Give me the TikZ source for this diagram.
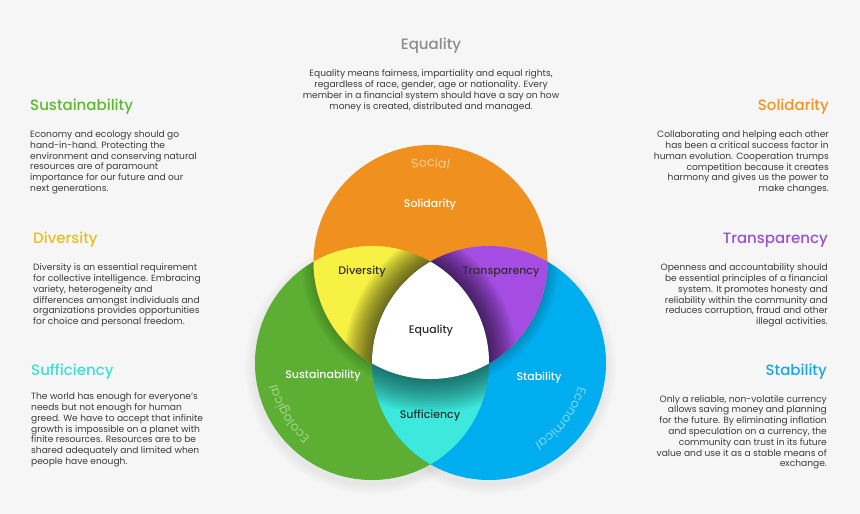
\documentclass[tikz,border=0pt]{standalone}
\usepackage{fontspec}
\setmainfont{Poppins}
\newfontfamily\medfont{Poppins Medium}
\usetikzlibrary{decorations.text}
\definecolor{bg}{HTML}{F6F6F6}
\definecolor{corange}{HTML}{F0901E}
\definecolor{cgreen}{HTML}{5CAF32}
\definecolor{cblue}{HTML}{00AEEF}
\definecolor{cyellow}{HTML}{F6F142}
\definecolor{cpurple}{HTML}{A54DE3}
\definecolor{ccyan}{HTML}{3DE9DC}
\definecolor{txt}{HTML}{3C3C3C}
\definecolor{hgreen}{HTML}{5CB82C}
\definecolor{hyellow}{HTML}{E6C020}
\definecolor{hcyan}{HTML}{3ADFD6}
\definecolor{horange}{HTML}{F29323}
\definecolor{hpurple}{HTML}{9A50CF}
\definecolor{hblue}{HTML}{17A6E8}
\definecolor{hgrey}{HTML}{8C8C8C}
\definecolor{lbldark}{HTML}{2E2E2E}
\tikzset{
  headtxt/.style={font=\medfont\fontsize{15}{17}\selectfont, inner sep=0pt},
  bodytxt/.style={font=\fontsize{9.1}{10.8}\selectfont, text=txt, inner sep=0pt},
  circlbl/.style={font=\medfont\fontsize{11}{12}\selectfont, inner sep=0pt},
}
\begin{document}
\begin{tikzpicture}[x=1pt,y=-1pt]
\fill[bg] (0,0) rectangle (860,514);
\useasboundingbox (0,0) rectangle (860,514);
\coordinate (O) at (430.5,262);
\coordinate (G) at (372,363);
\coordinate (B) at (489,363);
% soft drop shadow under the figure
\foreach \d in {2,4,...,10} {
  \pgfmathsetmacro\rr{117+\d}
  \fill[black,opacity=0.012] ([yshift=-4pt]G) circle (\rr pt);
  \fill[black,opacity=0.012] ([yshift=-4pt]B) circle (\rr pt);
}
% base circles
\fill[cgreen] (G) circle (117pt);
\fill[cblue] (B) circle (117pt);
% soft shadow of orange circle on green/blue
\begin{scope}
  \clip (G) circle (117pt) (B) circle (117pt);
  \foreach \d in {1.5,3,...,12} {
    \pgfmathsetmacro\rr{117+\d}
    \fill[black,opacity=0.025] (O) circle (\rr pt);
  }
\end{scope}
\fill[corange] (O) circle (117pt);
% yellow: orange & green
\begin{scope}
  \clip (O) circle (117pt);
  \clip (G) circle (117pt);
  \fill[cyellow] (G) circle (117pt);
  \foreach \d in {2,4,...,28} {
    \pgfmathsetmacro\rr{117+\d}
    \fill[black,opacity=0.05] (B) circle (\rr pt);
  }
\end{scope}
% purple: orange & blue
\begin{scope}
  \clip (O) circle (117pt);
  \clip (B) circle (117pt);
  \fill[cpurple] (B) circle (117pt);
  \foreach \d in {2,4,...,28} {
    \pgfmathsetmacro\rr{117+\d}
    \fill[black,opacity=0.05] (G) circle (\rr pt);
  }
\end{scope}
% cyan: green & blue
\begin{scope}
  \clip (G) circle (117pt);
  \clip (B) circle (117pt);
  \fill[ccyan] (B) circle (117pt);
  \foreach \d in {2,4,...,34} {
    \pgfmathsetmacro\rr{117+\d}
    \fill[black,opacity=0.035] (O) circle (\rr pt);
  }
\end{scope}
% white: all three
\begin{scope}
  \clip (O) circle (117pt);
  \clip (G) circle (117pt);
  \fill[white] (B) circle (117pt);
\end{scope}

% arc labels
\path[decorate, decoration={text along path, text align=center,
  text color=white!55!corange, text={|\fontsize{12.5}{14}\selectfont|Social}}]
  (O) ++(-125:95) arc[start angle=-125, end angle=-55, radius=95];
\path[decorate, decoration={text along path, text align=center,
  text color=white!45!cgreen, text={|\fontsize{12.5}{14}\selectfont|Ecological}}]
  (G) ++(113:97) arc[start angle=113, end angle=184, radius=97];
\path[decorate, decoration={text along path, text align=center,
  text color=white!50!cblue, text={|\fontsize{12.5}{14}\selectfont|Economical}}]
  (B) ++(2:92) arc[start angle=2, end angle=73, radius=92];

% circle labels
\node[circlbl, text=white] (lsolid) at (430,205) {Solidarity};
\node[circlbl, text=lbldark] (ldiv) at (362,272) {Diversity};
\node[circlbl, text=lbldark] (ltrans) at (501,272) {Transparency};
\node[circlbl, text=lbldark] (lequal) at (431,331) {Equality};
\node[circlbl, text=white] (lsust) at (323,376) {Sustainability};
\node[circlbl, text=white] (lstab) at (539,378) {Stability};
\node[circlbl, text=lbldark] (lsuff) at (430,416) {Sufficiency};

% top
\node[headtxt, text=hgrey] (hEq) at (431,46) {Equality};
\node[bodytxt, anchor=north, align=center] (bEq) at (431,69.5) {Equality means fairness, impartiality and equal rights,\\regardless of race, gender, age or nationality. Every\\member in a financial system should have a say on how\\money is created, distributed and managed.};

% left
\node[headtxt, text=hgreen, anchor=west] (hSust) at (30,107) {Sustainability};
\node[bodytxt, anchor=north west, align=left] (bSust) at (30,130.5) {Economy and ecology should go\\hand-in-hand. Protecting the\\environment and conserving natural\\resources are of paramount\\importance for our future and our\\next generations.};

\node[headtxt, text=hyellow, anchor=west] (hDiv) at (33,240) {Diversity};
\node[bodytxt, anchor=north west, align=left] (bDiv) at (33,263.5) {Diversity is an essential requirement\\for collective intelligence. Embracing\\variety, heterogeneity and\\differences amongst individuals and\\organizations provides opportunities\\for choice and personal freedom.};

\node[headtxt, text=hcyan, anchor=west] (hSuff) at (31,372) {Sufficiency};
\node[bodytxt, anchor=north west, align=left] (bSuff) at (31,392.5) {The world has enough for everyone's\\needs but not enough for human\\greed. We have to accept that infinite\\growth is impossible on a planet with\\finite resources. Resources are to be\\shared adequately and limited when\\people have enough.};

% right
\node[headtxt, text=horange, anchor=east] (hSol) at (829,107) {Solidarity};
\node[bodytxt, anchor=north east, align=right] (bSol) at (829,130.5) {Collaborating and helping each other\\has been a critical success factor in\\human evolution. Cooperation trumps\\competition because it creates\\harmony and gives us the power to\\make changes.};

\node[headtxt, text=hpurple, anchor=east] (hTra) at (828,240) {Transparency};
\node[bodytxt, anchor=north east, align=right] (bTra) at (828,263.5) {Openness and accountability should\\be essential principles of a financial\\system. It promotes honesty and\\reliability within the community and\\reduces corruption, fraud and other\\illegal activities.};

\node[headtxt, text=hblue, anchor=east] (hSta) at (827,372) {Stability};
\node[bodytxt, anchor=north east, align=right] (bSta) at (827,395) {Only a reliable, non-volatile currency\\allows saving money and planning\\for the future. By eliminating inflation\\and speculation on a currency, the\\community can trust in its future\\value and use it as a stable means of\\exchange.};
\end{tikzpicture}
\end{document}
